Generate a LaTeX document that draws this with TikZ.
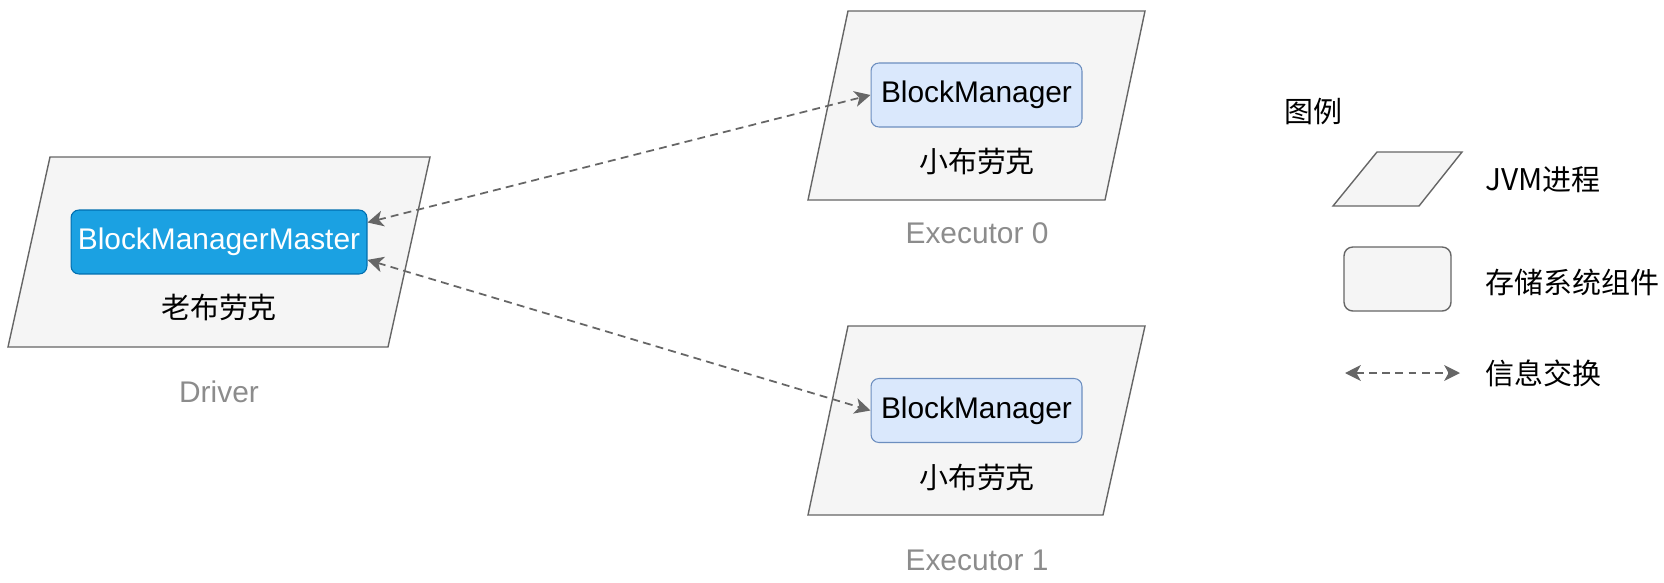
\documentclass[tikz,border=0pt]{standalone}
\usepackage{fontspec}
\setmainfont{Liberation Sans}
\newfontfamily\cjk{Noto Sans CJK SC}
\usepackage{tikz}
\usetikzlibrary{positioning,arrows.meta,calc}
\definecolor{blue700} {HTML}{006EAF}
\definecolor{blue500} {HTML}{1BA1E2}
\definecolor{blue400} {HTML}{6C8EBF}
\definecolor{blue100} {HTML}{DAE8FC}
\definecolor{grey600} {HTML}{666666}
\definecolor{grey500} {HTML}{8C8C8C}
\definecolor{grey100} {HTML}{F5F5F5}
\newcommand{\lat}{\fontsize{17}{20}\selectfont}
\newcommand{\zh}{\cjk\fontsize{16.5}{20}\selectfont}
\tikzset{
  jvm/.style   ={draw=grey600, fill=grey100, line width=0.8pt},
  bmm/.style   ={draw=blue700, fill=blue500, text=white, line width=0.6pt,
                 rounded corners=4.5pt, minimum width=5.92cm,
                 minimum height=1.28cm, inner sep=0pt, font=\lat},
  bm/.style    ={draw=blue400, fill=blue100, text=black, line width=0.6pt,
                 rounded corners=4.5pt, minimum width=4.22cm,
                 minimum height=1.28cm, inner sep=0pt, font=\lat},
  legbox/.style={draw=grey600, fill=grey100, line width=0.8pt,
                 rounded corners=5pt, minimum width=2.14cm,
                 minimum height=1.28cm, inner sep=0pt},
  zh/.style    ={font=\zh, text=black, inner sep=0pt},
  tag/.style   ={font=\lat, text=grey500, inner sep=0pt},
  key/.style   ={font=\zh, text=black, inner sep=0pt, anchor=west},
  ar/.style    ={{Stealth[length=9pt,width=9pt,inset=2.5pt]}-{Stealth[length=9pt,width=9pt,inset=2.5pt]},
                 draw=grey600, line width=1pt, dash pattern=on 4.5pt off 3pt}
}
\begin{document}
\begin{tikzpicture}[x=0.02cm, y=-0.02cm]
\useasboundingbox (0,0) rectangle (1664,582);

% driver
\draw[jvm] (50,157) -- (430,157) -- (388,347) -- (8,347) -- cycle;
\node[bmm] (bmm) at (219,242) {BlockManagerMaster};
\node[zh] (old) at (219,307) {老布劳克};
\node[tag] (drv) at (219,392) {Driver};

% executors
\draw[jvm] (848,11) -- (1145,11) -- (1105,200) -- (808,200) -- cycle;
\node[bm] (bm0) at (976.5,95) {BlockManager};
\node[zh] (small0) at (977,161) {小布劳克};
\node[tag] (exe0) at (977,233) {Executor 0};

\draw[jvm] (848,326) -- (1145,326) -- (1103,515) -- (808,515) -- cycle;
\node[bm] (bm1) at (976.5,410.5) {BlockManager};
\node[zh] (small1) at (977,477) {小布劳克};
\node[tag] (exe1) at (977,560) {Executor 1};

\draw[ar] ($(bmm.east)!0.6!(bmm.north east)$) -- (bm0.west);
\draw[ar] ($(bmm.east)!0.55!(bmm.south east)$) -- (bm1.west);

% legend
\node[zh, anchor=west] (legend) at (1284,112) {图例};
\draw[jvm] (1377,152) -- (1462,152) -- (1419,206) -- (1333,206) -- cycle;
\node[key] (kjvm) at (1485,180) {\lat JVM\zh 进程};
\node[legbox] (kbox) at (1397.5,279) {};
\node[key] (kstore) at (1485,282) {存储系统组件};
\coordinate (ka) at (1345,373);
\coordinate (kb) at (1460,373);
\draw[ar] (ka) -- (kb);
\node[key] (kmsg) at (1485,373) {信息交换};
\end{tikzpicture}
\end{document}
